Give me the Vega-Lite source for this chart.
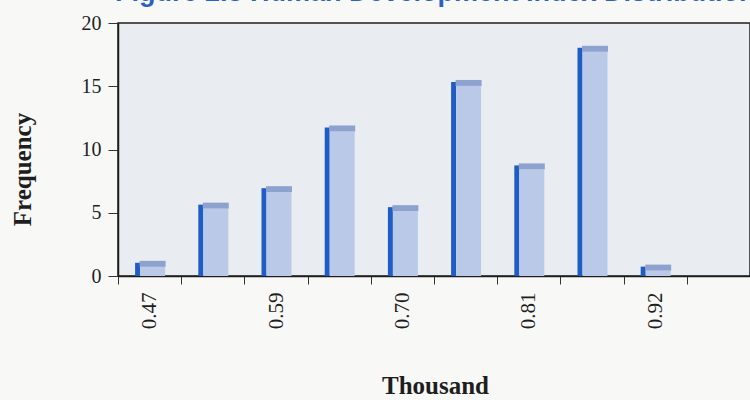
{
  "$schema": "https://vega.github.io/schema/vega-lite/v6.json",
  "autosize": {"type": "none"},
  "width": 632,
  "height": 253,
  "padding": {"left": 118, "top": 23, "right": 0, "bottom": 124},
  "background": "#f8f8f7",
  "title": {
    "text": "Figure 2.8 Human Development Index Distribution",
    "anchor": "start",
    "frame": "group",
    "orient": "top",
    "baseline": "alphabetic",
    "offset": 0,
    "dy": 15,
    "dx": -3,
    "font": "Liberation Sans",
    "fontSize": 27,
    "fontWeight": "bold",
    "color": "#2a62c4"
  },
  "config": {
    "view": {"fill": "#e9edf2", "stroke": "#1e1e1e", "strokeWidth": 1.5},
    "axis": {
      "domainColor": "#1e1e1e",
      "domainWidth": 1.5,
      "tickColor": "#333333",
      "tickWidth": 1,
      "grid": false,
      "labelFont": "Liberation Serif",
      "labelColor": "#1e1e1e",
      "titleFont": "Liberation Serif",
      "titleColor": "#1e1e1e"
    }
  },
  "data": {
    "values": [
      {"bin": "0.47", "frequency": 1.2},
      {"bin": "0.53", "frequency": 5.8},
      {"bin": "0.59", "frequency": 7.1},
      {"bin": "0.64", "frequency": 11.9},
      {"bin": "0.70", "frequency": 5.6},
      {"bin": "0.75", "frequency": 15.5},
      {"bin": "0.81", "frequency": 8.9},
      {"bin": "0.86", "frequency": 18.2},
      {"bin": "0.92", "frequency": 0.9}
    ]
  },
  "encoding": {
    "x": {
      "field": "bin",
      "type": "ordinal",
      "sort": null,
      "scale": {
        "domain": ["0.47", "0.53", "0.59", "0.64", "0.70", "0.75", "0.81", "0.86", "0.92", "0.97"],
        "paddingInner": 0,
        "paddingOuter": 0
      },
      "axis": {
        "title": "Thousand",
        "titleFontSize": 25,
        "titleFontWeight": "bold",
        "titleX": 317,
        "titleY": 117,
        "titleAlign": "center",
        "titleBaseline": "alphabetic",
        "labelAngle": 270,
        "labelAlign": "right",
        "labelBaseline": "middle",
        "labelFontSize": 21,
        "labelPadding": 8,
        "labelExpr": "indexof(['0.47','0.59','0.70','0.81','0.92'], datum.value) >= 0 ? datum.value : ''",
        "tickBand": "extent",
        "tickSize": 8
      }
    },
    "y": {
      "field": "frequency",
      "type": "quantitative",
      "scale": {"domain": [0, 20], "nice": false},
      "axis": {
        "title": "Frequency",
        "titleFontSize": 25,
        "titleFontWeight": "bold",
        "titleAngle": 270,
        "titleX": -96,
        "titleY": 146,
        "titleAlign": "center",
        "titleBaseline": "middle",
        "values": [0, 5, 10, 15, 20],
        "labelFontSize": 20,
        "labelPadding": 7,
        "labelFlush": false,
        "tickSize": 10
      }
    }
  },
  "layer": [
    {
      "mark": {"type": "bar", "width": 5, "xOffset": -12, "yOffset": 2, "y2Offset": 0, "color": "#1f5cc6", "opacity": 1},
      "encoding": {"y2": {"datum": 0}}
    },
    {
      "mark": {"type": "bar", "width": 25, "xOffset": 3, "yOffset": 6, "y2Offset": 0, "color": "#b9c9e7", "opacity": 1},
      "encoding": {"y2": {"datum": 0}}
    },
    {
      "mark": {"type": "bar", "width": 26, "xOffset": 3, "yOffset": 0, "y2Offset": 6, "color": "#8ea2d0", "opacity": 1},
      "encoding": {"y2": {"field": "frequency"}}
    }
  ]
}
